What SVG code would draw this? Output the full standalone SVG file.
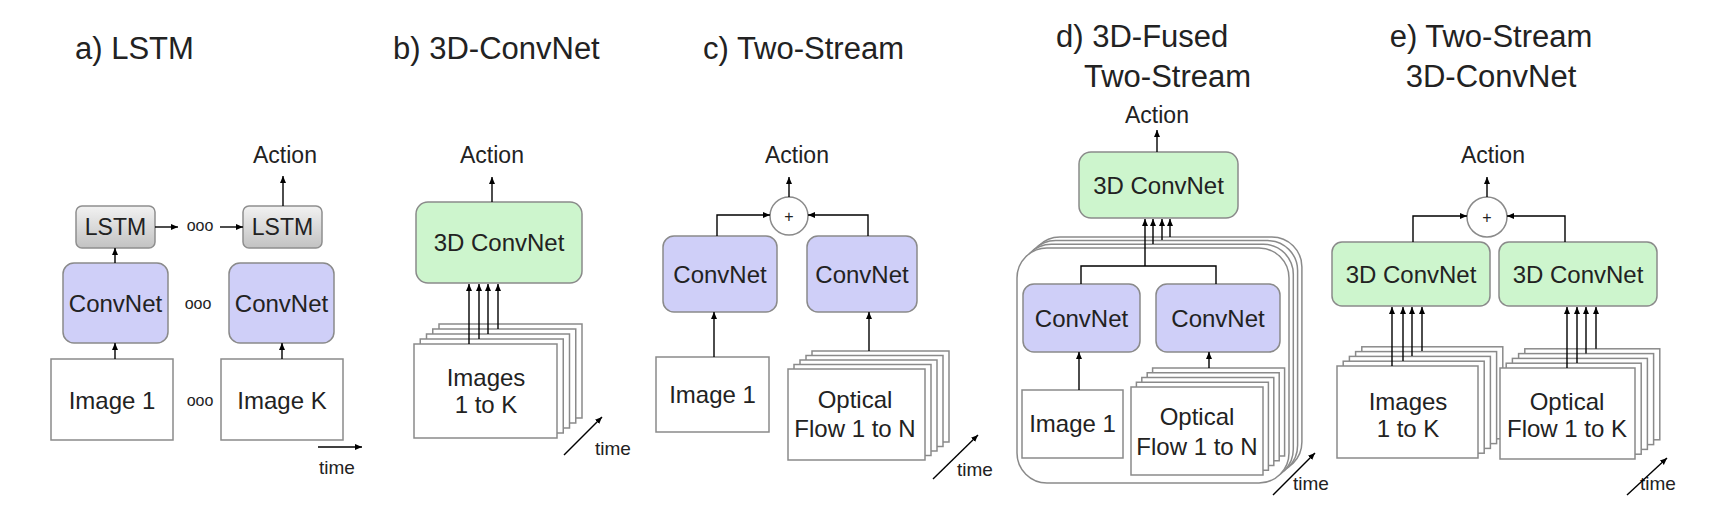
<svg xmlns="http://www.w3.org/2000/svg" width="1720" height="524" viewBox="0 0 1720 524">
<defs>
<linearGradient id="gray" x1="0" y1="0" x2="0" y2="1">
<stop offset="0" stop-color="#f2f2f2"/>
<stop offset="1" stop-color="#c2c2c2"/>
</linearGradient>
<marker id="ah" markerWidth="8" markerHeight="8" refX="7" refY="3" orient="auto" markerUnits="userSpaceOnUse">
<path d="M0,0 L7,3 L0,6 z" fill="#000"/>
</marker>
</defs>
<style>
text{font-family:"Liberation Sans",Arial,sans-serif;fill:#222}
.title{font-size:31px}
.lbl{font-size:24px;text-anchor:middle}
.act{font-size:23px;text-anchor:middle}
.time{font-size:19px}
.ooo{font-size:16px;text-anchor:middle}
.plus{font-size:16px;text-anchor:middle}
.lstm{fill:url(#gray);stroke:#8e8e8e;stroke-width:1.5}
.conv{fill:#cfcff8;stroke:#8a8a8a;stroke-width:1.5}
.c3d{fill:#cdf5cd;stroke:#8a8a8a;stroke-width:1.5}
.img{fill:#fff;stroke:#8a8a8a;stroke-width:1.5}
.sum{fill:#fff;stroke:#8a8a8a;stroke-width:1.5}
.ln{fill:none;stroke:#000;stroke-width:1.4}
.arr{fill:none;stroke:#000;stroke-width:1.4;marker-end:url(#ah)}
</style>
<rect width="1720" height="524" fill="#fff"/>

<g id="titles">
<text class="title" x="75" y="59">a) LSTM</text>
<text class="title" x="393" y="59">b) 3D-ConvNet</text>
<text class="title" x="703" y="59">c) Two-Stream</text>
<text class="title" x="1056" y="47">d) 3D-Fused</text>
<text class="title" x="1084" y="87">Two-Stream</text>
<text class="title" x="1491" y="47" text-anchor="middle">e) Two-Stream</text>
<text class="title" x="1491" y="87" text-anchor="middle">3D-ConvNet</text>
</g>

<!-- a) LSTM -->
<g id="a-action"><text class="act" x="285" y="163">Action</text></g>
<g id="a-lstm1"><rect class="lstm" x="76" y="206" width="79" height="42" rx="6"/><text class="lbl" x="115.5" y="235" style="font-size:23px">LSTM</text></g>
<g id="a-lstm2"><rect class="lstm" x="243" y="206" width="79" height="42" rx="6"/><text class="lbl" x="282.5" y="235" style="font-size:23px">LSTM</text></g>
<g id="a-conv1"><rect class="conv" x="63" y="263" width="105" height="80" rx="11"/><text class="lbl" x="115.5" y="312">ConvNet</text></g>
<g id="a-conv2"><rect class="conv" x="229" y="263" width="105" height="80" rx="11"/><text class="lbl" x="281.5" y="312">ConvNet</text></g>
<g id="a-img1"><rect class="img" x="51" y="359" width="122" height="81"/><text class="lbl" x="112" y="409">Image 1</text></g>
<g id="a-imgk"><rect class="img" x="221" y="359" width="122" height="81"/><text class="lbl" x="282" y="409">Image K</text></g>
<g id="a-dots">
<text class="ooo" x="200" y="231">ooo</text>
<text class="ooo" x="198" y="309">ooo</text>
<text class="ooo" x="200" y="406">ooo</text>
</g>
<g id="a-time"><text class="time" x="337" y="474" text-anchor="middle">time</text></g>

<!-- b) 3D-ConvNet -->
<g id="b-action"><text class="act" x="492" y="163">Action</text></g>
<g id="b-conv3d"><rect class="c3d" x="416" y="202" width="166" height="81" rx="12"/><text class="lbl" x="499" y="251">3D ConvNet</text></g>
<g id="b-images">
<rect class="img" x="439" y="324" width="143" height="94"/>
<rect class="img" x="432.75" y="329" width="143" height="94"/>
<rect class="img" x="426.5" y="334" width="143" height="94"/>
<rect class="img" x="420.25" y="339" width="143" height="94"/>
<rect class="img" x="414" y="344" width="143" height="94"/>
<text class="lbl" x="486" y="386">Images</text>
<text class="lbl" x="486" y="413">1 to K</text>
</g>
<g id="b-time"><text class="time" x="595" y="455">time</text></g>

<!-- c) Two-Stream -->
<g id="c-action"><text class="act" x="797" y="163">Action</text></g>
<g id="c-sum"><circle class="sum" cx="789" cy="216" r="19"/><text class="plus" x="789" y="222">+</text></g>
<g id="c-conv1"><rect class="conv" x="663" y="236" width="114" height="76" rx="11"/><text class="lbl" x="720" y="283">ConvNet</text></g>
<g id="c-conv2"><rect class="conv" x="807" y="236" width="110" height="76" rx="11"/><text class="lbl" x="862" y="283">ConvNet</text></g>
<g id="c-img1"><rect class="img" x="656" y="357" width="113" height="75"/><text class="lbl" x="712.5" y="403">Image 1</text></g>
<g id="c-flow">
<rect class="img" x="812" y="351" width="137" height="91"/>
<rect class="img" x="806" y="355.5" width="137" height="91"/>
<rect class="img" x="800" y="360" width="137" height="91"/>
<rect class="img" x="794" y="364.5" width="137" height="91"/>
<rect class="img" x="788" y="369" width="137" height="91"/>
<text class="lbl" x="855" y="408">Optical</text>
<text class="lbl" x="855" y="437">Flow 1 to N</text>
</g>
<g id="c-time"><text class="time" x="957" y="476">time</text></g>

<!-- d) 3D-Fused Two-Stream -->
<g id="d-action"><text class="act" x="1157" y="123">Action</text></g>
<g id="d-conv3d"><rect class="c3d" x="1079" y="152" width="159" height="66" rx="12"/><text class="lbl" x="1158.5" y="194">3D ConvNet</text></g>
<g id="d-frames">
<rect class="img" x="1029.9" y="236.9" width="272" height="235" rx="30"/>
<rect class="img" x="1025.6" y="240.6" width="272" height="235" rx="30"/>
<rect class="img" x="1021.3" y="244.3" width="272" height="235" rx="30"/>
<rect class="img" x="1017" y="248" width="272" height="235" rx="30"/>
</g>
<g id="d-conv1"><rect class="conv" x="1023" y="284" width="117" height="68" rx="11"/><text class="lbl" x="1081.5" y="327">ConvNet</text></g>
<g id="d-conv2"><rect class="conv" x="1156" y="284" width="124" height="68" rx="11"/><text class="lbl" x="1218" y="327">ConvNet</text></g>
<g id="d-img1"><rect class="img" x="1022" y="390" width="101" height="68"/><text class="lbl" x="1072.5" y="432">Image 1</text></g>
<g id="d-flow">
<rect class="img" x="1152.6" y="368" width="132" height="88"/>
<rect class="img" x="1147.2" y="372.75" width="132" height="88"/>
<rect class="img" x="1141.8" y="377.5" width="132" height="88"/>
<rect class="img" x="1136.4" y="382.25" width="132" height="88"/>
<rect class="img" x="1131" y="387" width="132" height="88"/>
<text class="lbl" x="1197" y="425">Optical</text>
<text class="lbl" x="1197" y="455">Flow 1 to N</text>
</g>
<g id="d-time"><text class="time" x="1293" y="490">time</text></g>

<!-- e) Two-Stream 3D-ConvNet -->
<g id="e-action"><text class="act" x="1493" y="163">Action</text></g>
<g id="e-sum"><circle class="sum" cx="1487" cy="217" r="20"/><text class="plus" x="1487" y="223">+</text></g>
<g id="e-conv3d1"><rect class="c3d" x="1332" y="242" width="158" height="64" rx="10"/><text class="lbl" x="1411" y="283">3D ConvNet</text></g>
<g id="e-conv3d2"><rect class="c3d" x="1499" y="242" width="158" height="64" rx="10"/><text class="lbl" x="1578" y="283">3D ConvNet</text></g>
<g id="e-images">
<rect class="img" x="1361.8" y="346.8" width="141" height="92"/>
<rect class="img" x="1355.6" y="351.6" width="141" height="92"/>
<rect class="img" x="1349.4" y="356.4" width="141" height="92"/>
<rect class="img" x="1343.2" y="361.2" width="141" height="92"/>
<rect class="img" x="1337" y="366" width="141" height="92"/>
<text class="lbl" x="1408" y="410">Images</text>
<text class="lbl" x="1408" y="437">1 to K</text>
</g>
<g id="e-flow">
<rect class="img" x="1524.8" y="348.8" width="135" height="91"/>
<rect class="img" x="1518.6" y="353.6" width="135" height="91"/>
<rect class="img" x="1512.4" y="358.4" width="135" height="91"/>
<rect class="img" x="1506.2" y="363.2" width="135" height="91"/>
<rect class="img" x="1500" y="368" width="135" height="91"/>
<text class="lbl" x="1567" y="410">Optical</text>
<text class="lbl" x="1567" y="437">Flow 1 to K</text>
</g>
<g id="e-time"><text class="time" x="1640" y="490">time</text></g>

<g id="connectors">
<!-- a -->
<path class="arr" d="M283,206 V176"/>
<path class="arr" d="M155,227 H178"/>
<path class="arr" d="M220,227 H243"/>
<path class="arr" d="M115,263 V248"/>
<path class="arr" d="M115,359 V343"/>
<path class="arr" d="M282,359 V343"/>
<path class="arr" d="M318,447 H362"/>
<!-- b -->
<path class="arr" d="M492,202 V177"/>
<path class="arr" d="M469,344 V284"/>
<path class="arr" d="M479,339 V284"/>
<path class="arr" d="M488,334 V284"/>
<path class="arr" d="M498,329 V284"/>
<path class="arr" d="M564,455 L602,417"/>
<!-- c -->
<path class="arr" d="M789,197 V177"/>
<path class="arr" d="M717,236 V215 H770"/>
<path class="arr" d="M868,236 V215 H808"/>
<path class="arr" d="M714,357 V312"/>
<path class="arr" d="M869,351 V312"/>
<path class="arr" d="M933,479 L978,435"/>
<!-- d -->
<path class="arr" d="M1157,152 V130"/>
<path class="ln" d="M1081,284 V266 H1216 V284"/>
<path class="arr" d="M1145,266 V219"/>
<path class="arr" d="M1153,244 V219"/>
<path class="arr" d="M1162,240 V219"/>
<path class="arr" d="M1170,237 V219"/>
<path class="arr" d="M1079,390 V352"/>
<path class="arr" d="M1209,368 V352"/>
<path class="arr" d="M1273,495 L1315,453"/>
<!-- e -->
<path class="arr" d="M1487,197 V177"/>
<path class="arr" d="M1413,242 V216 H1467"/>
<path class="arr" d="M1565,242 V216 H1507"/>
<path class="arr" d="M1392,366 V307"/>
<path class="arr" d="M1403,361 V307"/>
<path class="arr" d="M1412,356 V307"/>
<path class="arr" d="M1422,351 V307"/>
<path class="arr" d="M1567,368 V307"/>
<path class="arr" d="M1577,363 V307"/>
<path class="arr" d="M1586,353.6 V307"/>
<path class="arr" d="M1596,348.8 V307"/>
<path class="arr" d="M1627,495 L1667,458"/>
</g>
</svg>
